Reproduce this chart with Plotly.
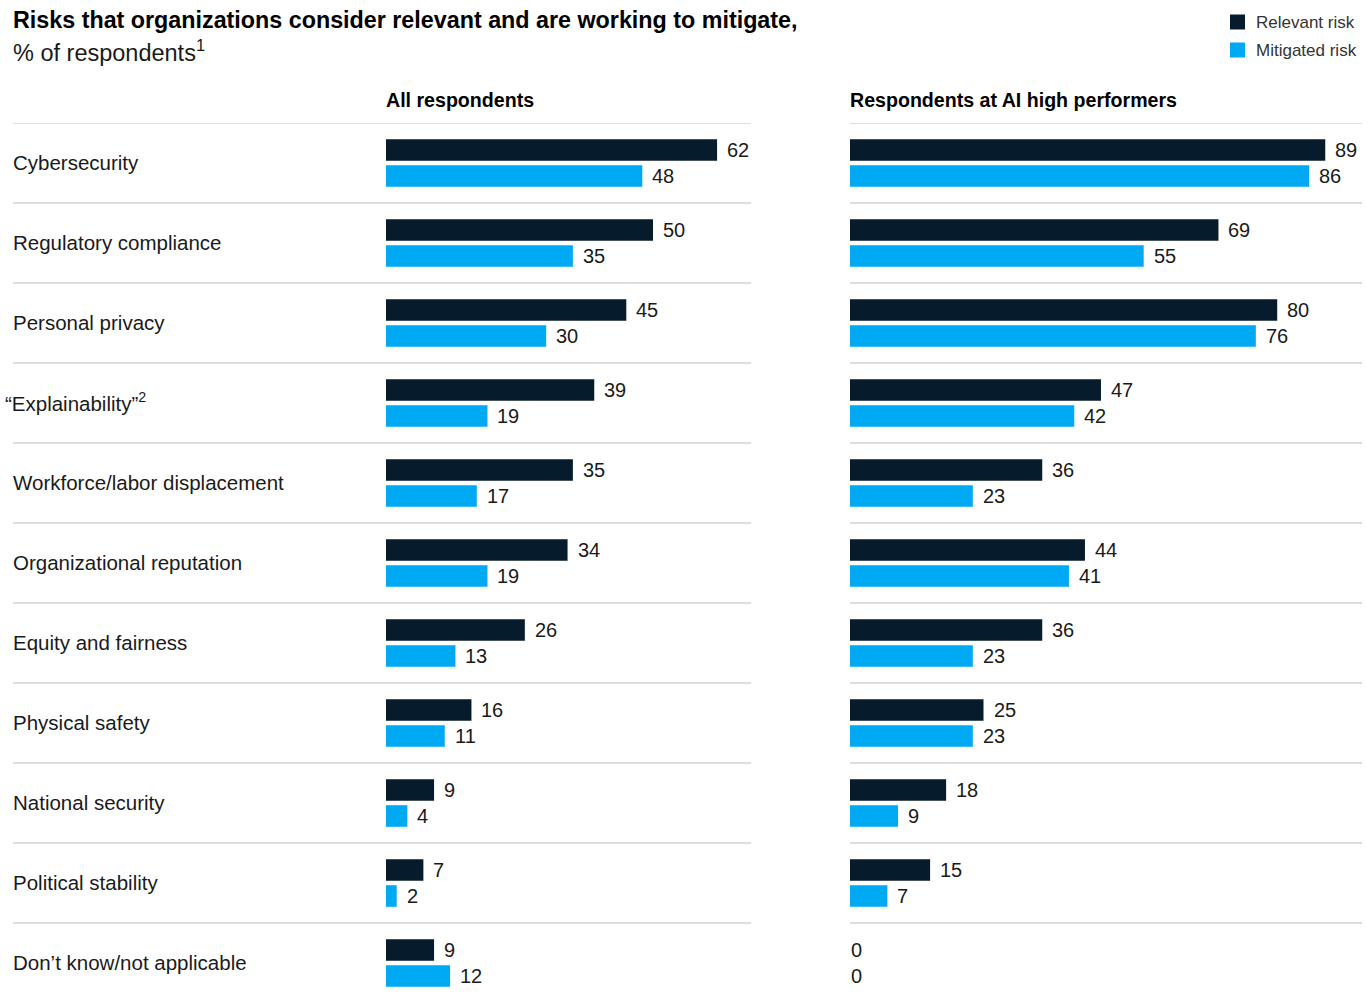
import plotly.graph_objects as go

# Risk categories and survey shares (% of respondents)
categories = [
    "Cybersecurity",
    "Regulatory compliance",
    "Personal privacy",
    "“Explainability”<sup>2</sup>",
    "Workforce/labor displacement",
    "Organizational reputation",
    "Equity and fairness",
    "Physical safety",
    "National security",
    "Political stability",
    "Don’t know/not applicable",
]
all_relevant = [62, 50, 45, 39, 35, 34, 26, 16, 9, 7, 9]
all_mitigated = [48, 35, 30, 19, 17, 19, 13, 11, 4, 2, 12]
hp_relevant = [89, 69, 80, 47, 36, 44, 36, 25, 18, 15, 0]
hp_mitigated = [86, 55, 76, 42, 23, 41, 23, 23, 9, 7, 0]

panel_titles = ["All respondents", "Respondents at AI high performers"]
series_names = ["Relevant risk", "Mitigated risk"]

DARK = "#061c2c"
BLUE = "#00a9f4"
TEXT = "#1a1a1a"
GRID = "#d3d3d3"
FONT = "Liberation Sans, Arial, sans-serif"

W, H = 1372, 1000
TOP = 123  # top of plotting area in pixels
ROW_PX = 80
PX_PER_UNIT = 5.34
PAD = -2  # compensates the annotation box padding

n = len(categories)
rows = list(range(n))
y_rel = [r + 0.3375 for r in rows]
y_mit = [r + 0.6625 for r in rows]


def px_x(p):
    return p / W


def px_y(p):
    return (H - p) / (H - TOP)


left_dom = (386, 751)
right_dom = (850, 1362)

fig = go.Figure()

panels = [
    ("x", all_relevant, all_mitigated, left_dom),
    ("x2", hp_relevant, hp_mitigated, right_dom),
]

for xa, rel, mit, dom in panels:
    for vals, ys, color in ((rel, y_rel, DARK), (mit, y_mit, BLUE)):
        fig.add_trace(go.Bar(
            x=vals, y=ys, orientation="h", width=0.27,
            marker=dict(color=color, line=dict(width=0)),
            xaxis=xa, yaxis="y", showlegend=False, hoverinfo="x",
        ))
        for v, yy in zip(vals, ys):
            fig.add_annotation(
                x=v, y=yy, xref=xa, yref="y", text=str(v),
                showarrow=False, xanchor="left", yanchor="middle",
                xshift=8 if v > 0 else -1,
                font=dict(family=FONT, size=20, color=TEXT),
            )

# Row separators for each panel
for r in range(n):
    fig.add_shape(type="line", xref="paper", yref="y",
                  x0=px_x(13), x1=px_x(left_dom[1]), y0=r, y1=r,
                  line=dict(color=GRID, width=1.5))
    fig.add_shape(type="line", xref="paper", yref="y",
                  x0=px_x(right_dom[0]), x1=px_x(right_dom[1]), y0=r, y1=r,
                  line=dict(color=GRID, width=1.5))

# Category labels
for r, cat in zip(rows, categories):
    fig.add_annotation(
        x=px_x(13), y=r + 0.5, xref="paper", yref="y", text=cat,
        showarrow=False, xanchor="left", yanchor="middle",
        xshift=PAD - 8 if cat.startswith("“") else PAD, yshift=1,
        font=dict(family=FONT, size=20.5, color=TEXT),
    )

# Panel headers
for title, dom in zip(panel_titles, (left_dom, right_dom)):
    fig.add_annotation(
        x=px_x(dom[0]), y=px_y(100), xref="paper", yref="paper",
        text=f"<b>{title}</b>", showarrow=False,
        xanchor="left", yanchor="middle", xshift=PAD,
        font=dict(family=FONT, size=19.6, color="#000000"),
    )

# Title and subtitle
fig.add_annotation(
    x=px_x(13), y=px_y(20), xref="paper", yref="paper",
    text="<b>Risks that organizations consider relevant and are working to mitigate,</b>",
    showarrow=False, xanchor="left", yanchor="middle", xshift=PAD,
    font=dict(family=FONT, size=23.3, color="#000000"),
)
fig.add_annotation(
    x=px_x(13), y=px_y(51), xref="paper", yref="paper",
    text="% of respondents<sup>1</sup>",
    showarrow=False, xanchor="left", yanchor="middle", xshift=PAD,
    font=dict(family=FONT, size=23.5, color=TEXT),
)

# Legend
for i, (name, color) in enumerate(zip(series_names, (DARK, BLUE))):
    yc = 22 + 28 * i
    fig.add_shape(type="rect", xref="paper", yref="paper",
                  x0=px_x(1230), x1=px_x(1245), y0=px_y(yc - 7.5), y1=px_y(yc + 7.5),
                  fillcolor=color, line=dict(width=0))
    fig.add_annotation(
        x=px_x(1256), y=px_y(yc + 0.5), xref="paper", yref="paper", text=name,
        showarrow=False, xanchor="left", yanchor="middle", xshift=PAD,
        font=dict(family=FONT, size=17, color="#333333"),
    )

axis_common = dict(showgrid=False, zeroline=False, showticklabels=False,
                   showline=False, ticks="", fixedrange=True)

fig.update_layout(
    width=W, height=H,
    margin=dict(l=0, r=0, t=TOP, b=0, pad=0),
    paper_bgcolor="white", plot_bgcolor="white",
    barmode="overlay",
    xaxis=dict(domain=[px_x(left_dom[0]), px_x(left_dom[1])],
               range=[0, (left_dom[1] - left_dom[0]) / PX_PER_UNIT], **axis_common),
    xaxis2=dict(domain=[px_x(right_dom[0]), px_x(right_dom[1])],
                range=[0, (right_dom[1] - right_dom[0]) / PX_PER_UNIT],
                anchor="y", **axis_common),
    yaxis=dict(range=[(H - TOP) / ROW_PX, 0], **axis_common),
    showlegend=False,
)

fig.write_html("out.html")
